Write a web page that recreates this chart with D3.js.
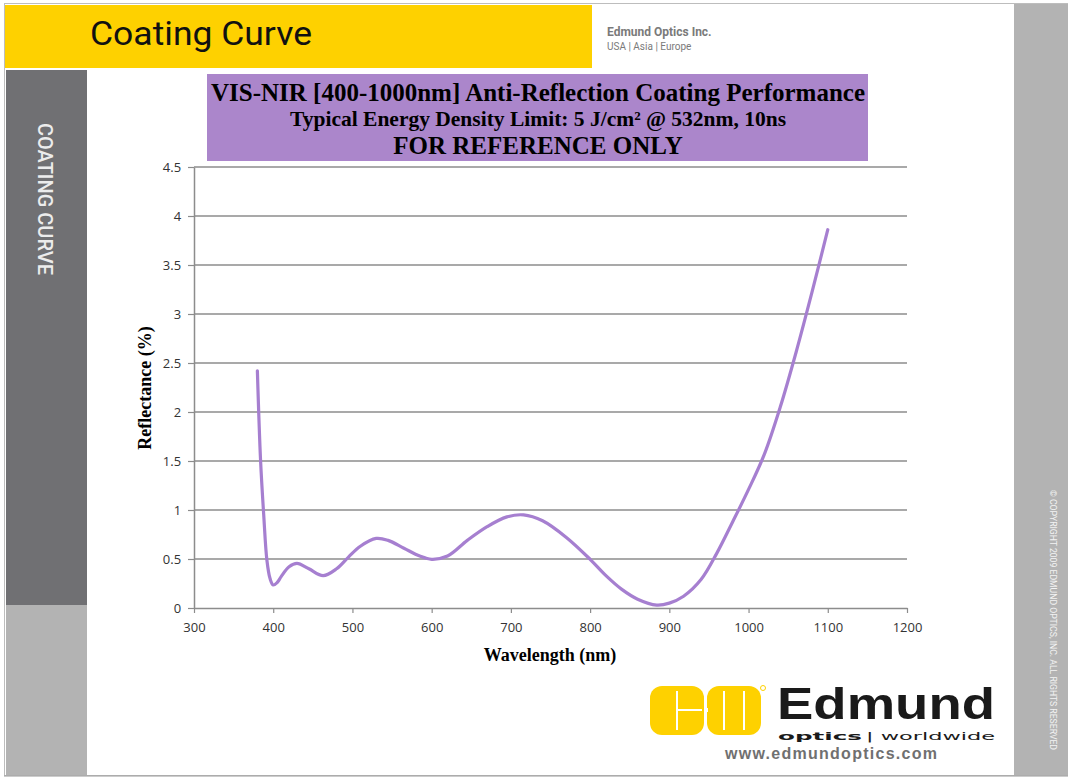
<!DOCTYPE html>
<html>
<head>
<meta charset="utf-8">
<script src="https://cdn.jsdelivr.net/npm/d3@7"></script>
<style>
  body { margin: 0; background: #fff; }
  svg { display: block; }
</style>
</head>
<body>
<svg width="1068" height="780"></svg>
<script>
// Coating curve data
var wavelength = [380, 384, 388, 392, 396, 400, 405, 410, 420, 430, 445, 463, 480, 495, 510, 530, 545, 565, 585, 600, 620,
                  645, 670, 695, 716, 740, 770, 800, 820, 840, 860, 884, 900, 918, 940, 960, 980, 1000, 1020,
                  1040, 1060, 1080, 1100];
var reflectance = [2.42, 1.51, 0.95, 0.49, 0.30, 0.235, 0.26, 0.32, 0.42, 0.455, 0.40, 0.33, 0.40, 0.52, 0.63, 0.71, 0.69, 0.61, 0.53, 0.497, 0.53,
                   0.69, 0.83, 0.93, 0.95, 0.89, 0.72, 0.497, 0.33, 0.19, 0.09, 0.03, 0.05, 0.12, 0.29, 0.56, 0.88, 1.21, 1.57,
                   2.05, 2.61, 3.22, 3.86];
var xTicks = [300, 400, 500, 600, 700, 800, 900, 1000, 1100, 1200];
var yTicks = [0, 0.5, 1, 1.5, 2, 2.5, 3, 3.5, 4, 4.5];

var svg = d3.select("svg");

// Page frame and side bands
svg.append("rect").attr("x", 4.5).attr("y", 3.5).attr("width", 1070).attr("height", 772)
    .attr("fill", "#fff").attr("stroke", "#bdbdbd");
svg.append("rect").attr("x", 1014).attr("y", 4).attr("width", 54).attr("height", 771).attr("fill", "#b3b3b3");
svg.append("rect").attr("x", 5).attr("y", 5).attr("width", 587).attr("height", 63).attr("fill", "#fed100");
svg.append("rect").attr("x", 6).attr("y", 70).attr("width", 81).attr("height", 535).attr("fill", "#707073");
svg.append("rect").attr("x", 6).attr("y", 605).attr("width", 81).attr("height", 170).attr("fill", "#b3b3b3");
svg.append("line").attr("x1", 4).attr("x2", 1068).attr("y1", 776).attr("y2", 776).attr("stroke", "#9a9a9a");

// Header texts
svg.append("text").attr("x", 90).attr("y", 45)
    .style("font-family", "Roboto, sans-serif").style("font-size", "34px").attr("fill", "#111")
    .attr("textLength", 222).attr("lengthAdjust", "spacingAndGlyphs").text("Coating Curve");
svg.append("text").attr("x", 607).attr("y", 36)
    .style("font-family", "Roboto, sans-serif").style("font-size", "12px").style("font-weight", "bold")
    .attr("fill", "#7a7a7a").text("Edmund Optics Inc.");
svg.append("text").attr("x", 607).attr("y", 50)
    .style("font-family", "Roboto, sans-serif").style("font-size", "10px")
    .attr("fill", "#7a7a7a").text("USA | Asia | Europe");
svg.append("text").attr("transform", "translate(38,123) rotate(90)")
    .style("font-family", "Roboto, sans-serif").style("font-size", "21px").style("font-weight", "500")
    .attr("fill", "#ececec").attr("textLength", 152).attr("lengthAdjust", "spacingAndGlyphs").text("COATING CURVE");
svg.append("text").attr("transform", "translate(1050,490) rotate(90)")
    .style("font-family", "Roboto, sans-serif").style("font-size", "8.5px")
    .attr("fill", "#f4f4f4").attr("textLength", 260).attr("lengthAdjust", "spacingAndGlyphs")
    .text("© COPYRIGHT 2009 EDMUND OPTICS, INC. ALL RIGHTS RESERVED");

// Title box
svg.append("rect").attr("x", 207).attr("y", 74).attr("width", 661).attr("height", 87).attr("fill", "#ab86cb");
var titles = [
  {t: "VIS-NIR [400-1000nm] Anti-Reflection Coating Performance", y: 101, s: 25},
  {t: "Typical Energy Density Limit: 5 J/cm² @ 532nm, 10ns", y: 126, s: 21.5},
  {t: "FOR REFERENCE ONLY", y: 154, s: 25}
];
svg.selectAll(".title").data(titles).enter().append("text")
    .attr("x", 538).attr("y", function(d) { return d.y; }).attr("text-anchor", "middle")
    .style("font-family", "'Liberation Serif', 'Times New Roman', serif").style("font-weight", "bold")
    .style("font-size", function(d) { return d.s + "px"; }).attr("fill", "#000")
    .text(function(d) { return d.t; });

// Plot area
var x = d3.scaleLinear().domain([300, 1200]).range([194, 907]),
    y = d3.scaleLinear().domain([0, 4.5]).range([608, 167]);

// Gridlines
svg.append("g").selectAll("line").data(yTicks.slice(1)).enter().append("line")
    .attr("x1", 194).attr("x2", 907)
    .attr("y1", function(d) { return y(d); }).attr("y2", function(d) { return y(d); })
    .attr("stroke", "#8c8c8c").attr("stroke-width", 1.5);

// Axes
var gx = svg.append("g").attr("transform", "translate(0,608)")
    .call(d3.axisBottom(x).tickValues(xTicks).tickSize(5).tickSizeOuter(0).tickFormat(function(d) { return String(d); }));
var gy = svg.append("g").attr("transform", "translate(194,0)")
    .call(d3.axisLeft(y).tickValues(yTicks).tickSize(6).tickSizeOuter(0).tickFormat(function(d) { return String(d); }));
[gx, gy].forEach(function(g) {
  g.select(".domain").attr("stroke", "#8c8c8c").attr("stroke-width", 1.5);
  g.selectAll(".tick line").attr("stroke", "#8c8c8c").attr("stroke-width", 1.2);
  g.selectAll(".tick text").style("font-family", "'Open Sans', sans-serif").style("font-size", "13px").attr("fill", "#333");
});
gx.selectAll(".tick text").attr("dy", "1.2em");
gy.selectAll(".tick text").attr("dx", "-0.3em");

// Axis titles
svg.append("text").attr("x", 550).attr("y", 661).attr("text-anchor", "middle")
    .style("font-family", "'Liberation Serif', serif").style("font-weight", "bold").style("font-size", "18px")
    .text("Wavelength (nm)");
svg.append("text").attr("transform", "translate(151,388) rotate(-90)").attr("text-anchor", "middle")
    .style("font-family", "'Liberation Serif', serif").style("font-weight", "bold").style("font-size", "18px")
    .text("Reflectance (%)");

// Curve
var line = d3.line()
    .x(function(d) { return x(d[0]); })
    .y(function(d) { return y(d[1]); })
    .curve(d3.curveCatmullRom.alpha(0.5));
svg.append("path").datum(d3.zip(wavelength, reflectance))
    .attr("d", line).attr("fill", "none").attr("stroke", "#a67fd0").attr("stroke-width", 3.2)
    .attr("stroke-linecap", "round");

// Logo
var logo = svg.append("g");
logo.append("rect").attr("x", 650).attr("y", 686).attr("width", 54).attr("height", 49).attr("rx", 12).attr("fill", "#fed100");
logo.append("rect").attr("x", 707).attr("y", 686).attr("width", 54).attr("height", 49).attr("rx", 12).attr("fill", "#fed100");
logo.append("line").attr("x1", 677).attr("x2", 677).attr("y1", 691).attr("y2", 730).attr("stroke", "#fff").attr("stroke-width", 2);
logo.append("line").attr("x1", 677).attr("x2", 702).attr("y1", 710).attr("y2", 710).attr("stroke", "#fff").attr("stroke-width", 2);
logo.append("line").attr("x1", 704).attr("x2", 708).attr("y1", 710).attr("y2", 710).attr("stroke", "#fff").attr("stroke-width", 4);
logo.append("line").attr("x1", 724).attr("x2", 724).attr("y1", 691).attr("y2", 730).attr("stroke", "#fff").attr("stroke-width", 2);
logo.append("line").attr("x1", 744).attr("x2", 744).attr("y1", 691).attr("y2", 730).attr("stroke", "#fff").attr("stroke-width", 2);
logo.append("circle").attr("cx", 763).attr("cy", 688).attr("r", 2.5).attr("fill", "none").attr("stroke", "#fed100");
logo.append("text").attr("x", 777).attr("y", 719)
    .style("font-family", "'Liberation Sans', Arial, sans-serif").style("font-weight", "bold").style("font-size", "44px")
    .attr("fill", "#1a1a1a").attr("textLength", 218).attr("lengthAdjust", "spacingAndGlyphs").text("Edmund");
logo.append("text").attr("x", 778).attr("y", 740)
    .style("font-family", "'DejaVu Sans', sans-serif").style("font-weight", "bold").style("font-size", "11px")
    .attr("fill", "#1a1a1a").attr("textLength", 84).attr("lengthAdjust", "spacingAndGlyphs").text("optics");
logo.append("text").attr("x", 866).attr("y", 740)
    .style("font-family", "'DejaVu Sans', sans-serif").style("font-size", "11px")
    .attr("fill", "#1a1a1a").attr("textLength", 129).attr("lengthAdjust", "spacingAndGlyphs").text("| worldwide");
logo.append("text").attr("x", 725).attr("y", 759)
    .style("font-family", "'Liberation Sans', Arial, sans-serif").style("font-weight", "bold").style("font-size", "16px")
    .attr("fill", "#707070").attr("textLength", 212).text("www.edmundoptics.com");
</script>
</body>
</html>
